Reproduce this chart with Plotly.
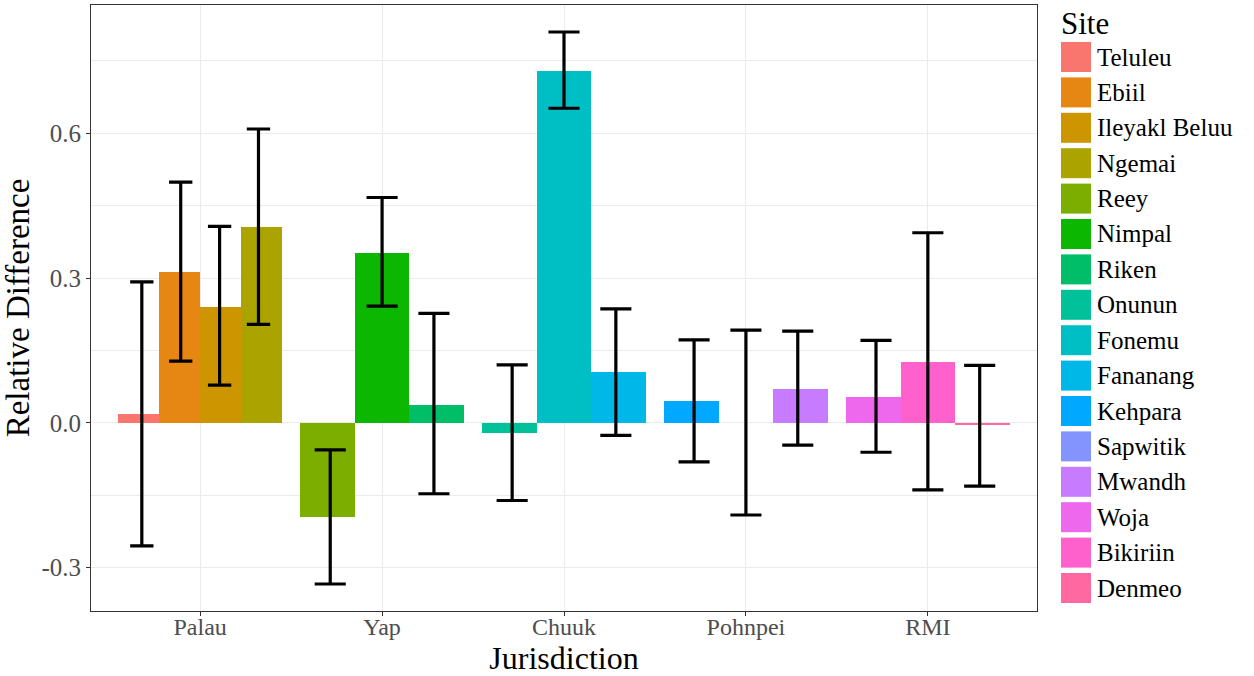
import plotly.graph_objects as go

# ---- data -------------------------------------------------------------
jurisdictions = ["Palau", "Yap", "Chuuk", "Pohnpei", "RMI"]

sites = ["Teluleu", "Ebiil", "Ileyakl Beluu", "Ngemai",
         "Reey", "Nimpal", "Riken",
         "Onunun", "Fonemu", "Fananang",
         "Kehpara", "Sapwitik", "Mwandh",
         "Woja", "Bikiriin", "Denmeo"]

site_jurisdiction = ["Palau", "Palau", "Palau", "Palau",
                     "Yap", "Yap", "Yap",
                     "Chuuk", "Chuuk", "Chuuk",
                     "Pohnpei", "Pohnpei", "Pohnpei",
                     "RMI", "RMI", "RMI"]

rel_diff = [0.018, 0.312, 0.241, 0.406,
            -0.195, 0.353, 0.038,
            -0.021, 0.729, 0.105,
            0.045, 0.0, 0.071,
            0.054, 0.126, -0.005]

ci_upper = [0.292, 0.499, 0.407, 0.609,
            -0.056, 0.467, 0.227,
            0.120, 0.810, 0.236,
            0.172, 0.192, 0.190,
            0.171, 0.394, 0.119]

ci_lower = [-0.255, 0.128, 0.078, 0.204,
            -0.334, 0.242, -0.147,
            -0.161, 0.652, -0.026,
            -0.081, -0.191, -0.046,
            -0.061, -0.139, -0.131]

y_tick_vals = [-0.3, 0.0, 0.3, 0.6]
y_tick_text = ["-0.3", "0.0", "0.3", "0.6"]
y_minor_vals = [-0.15, 0.15, 0.45, 0.75]

# ggplot2 default hue palette for 16 levels
site_colors = ["#F8766D", "#E68613", "#CD9600", "#ABA300", "#7CAE00",
               "#0CB702", "#00BE67", "#00C19A", "#00BFC4", "#00B8E7",
               "#00A9FF", "#8494FF", "#C77CFF", "#ED68ED", "#FF61CC",
               "#FF68A1"]

# ---- layout geometry ---------------------------------------------------
FIG_W, FIG_H = 1254, 676
M_L, M_R, M_T, M_B = 91, 217, 5, 65
PLOT_W = FIG_W - M_L - M_R
PLOT_H = FIG_H - M_T - M_B
X_RANGE = [0.4, 5.6]
Y_RANGE = [-0.390, 0.866]
PX_PER_X = PLOT_W / (X_RANGE[1] - X_RANGE[0])

DODGE = 0.9          # total width occupied by a group of bars
ERR_DODGE = 0.95     # error bars sit slightly closer to the group centre
CAP_FRAC = 0.57      # cap length as a fraction of bar width

SERIF = "Liberation Serif, Times New Roman, serif"
GREY30 = "#4D4D4D"
GREY20 = "#333333"
GRID = "#EBEBEB"


def paper_x(px):
    return (px - M_L) / PLOT_W


def paper_y(py):
    return (M_T + PLOT_H - py) / PLOT_H


fig = go.Figure()

bar_x, err_x, bar_w = {}, {}, {}
for gi, jur in enumerate(jurisdictions, start=1):
    members = [k for k, j in enumerate(site_jurisdiction) if j == jur]
    n = len(members)
    w = DODGE / n
    for r, k in enumerate(members):
        off = -DODGE / 2 + (r + 0.5) * w
        bar_x[k] = gi + off
        err_x[k] = gi + off * ERR_DODGE
        bar_w[k] = w

# bars
for k, name in enumerate(sites):
    fig.add_trace(go.Bar(
        x=[bar_x[k]], y=[rel_diff[k]], width=[bar_w[k]],
        name=name, marker=dict(color=site_colors[k], line=dict(width=0)),
        showlegend=False, hoverinfo="name+y",
    ))

# error bars, drawn above all bars
for k, name in enumerate(sites):
    fig.add_trace(go.Scatter(
        x=[err_x[k]], y=[rel_diff[k]], mode="markers",
        marker=dict(size=1, opacity=0),
        error_y=dict(
            type="data", symmetric=False,
            array=[ci_upper[k] - rel_diff[k]],
            arrayminus=[rel_diff[k] - ci_lower[k]],
            color="black", thickness=3.2,
            width=bar_w[k] * PX_PER_X * CAP_FRAC / 2,
        ),
        showlegend=False, hoverinfo="skip",
    ))

# legend drawn as keys + labels to the right of the panel
shapes, annotations = [], []
annotations.append(dict(
    x=paper_x(1059), y=paper_y(23), xref="paper", yref="paper",
    text="Site", showarrow=False, xanchor="left", yanchor="middle",
    font=dict(family=SERIF, size=31, color="black"),
))
ROW0, ROW_STEP, KEY = 57, 35.4, 30
for k, name in enumerate(sites):
    cy = ROW0 + k * ROW_STEP
    shapes.append(dict(
        type="rect", xref="paper", yref="paper",
        x0=paper_x(1061), x1=paper_x(1061 + KEY),
        y0=paper_y(cy + KEY / 2), y1=paper_y(cy - KEY / 2),
        fillcolor=site_colors[k], line=dict(width=0), layer="above",
    ))
    annotations.append(dict(
        x=paper_x(1095), y=paper_y(cy), xref="paper", yref="paper",
        text=name, showarrow=False, xanchor="left", yanchor="middle",
        font=dict(family=SERIF, size=25, color="black"),
    ))

fig.update_layout(
    width=FIG_W, height=FIG_H, autosize=False,
    margin=dict(l=M_L, r=M_R, t=M_T, b=M_B),
    paper_bgcolor="white", plot_bgcolor="white",
    barmode="overlay", bargap=0,
    showlegend=False,
    shapes=shapes, annotations=annotations,
    font=dict(family=SERIF),
)

fig.update_xaxes(
    range=X_RANGE,
    tickmode="array", tickvals=list(range(1, len(jurisdictions) + 1)),
    ticktext=jurisdictions,
    tickfont=dict(family=SERIF, size=24, color=GREY30),
    ticks="outside", ticklen=4, tickcolor=GREY20, tickwidth=1,
    ticklabelstandoff=-10,
    showgrid=True, gridcolor=GRID, gridwidth=1.1,
    showline=True, mirror=True, linecolor=GREY20, linewidth=1,
    zeroline=False,
    title=dict(text="Jurisdiction", standoff=4,
               font=dict(family=SERIF, size=32, color="black")),
)

fig.update_yaxes(
    range=Y_RANGE,
    tickmode="array", tickvals=y_tick_vals, ticktext=y_tick_text,
    tickfont=dict(family=SERIF, size=25, color=GREY30),
    ticks="outside", ticklen=4, tickcolor=GREY20, tickwidth=1,
    showgrid=True, gridcolor=GRID, gridwidth=1.1,
    minor=dict(tickmode="array", tickvals=y_minor_vals, showgrid=True,
               gridcolor=GRID, gridwidth=0.6, ticks=""),
    showline=True, mirror=True, linecolor=GREY20, linewidth=1,
    zeroline=False,
    title=dict(text="Relative Difference", standoff=6,
               font=dict(family=SERIF, size=33, color="black")),
)

fig.write_html("out.html")
